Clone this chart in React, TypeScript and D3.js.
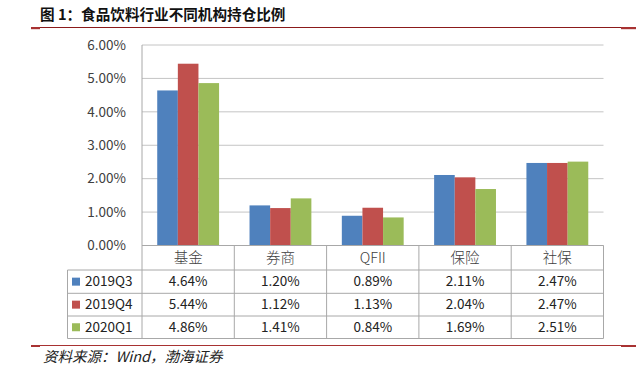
import React from "react";
import * as d3 from "d3";

const categories = ["基金", "券商", "QFII", "保险", "社保"];
const seriesNames = ["2019Q3", "2019Q4", "2020Q1"];
const q3 = [4.64, 1.2, 0.89, 2.11, 2.47];
const q4 = [5.44, 1.12, 1.13, 2.04, 2.47];
const q1 = [4.86, 1.41, 0.84, 1.69, 2.51];
const yTicks = [0, 1, 2, 3, 4, 5, 6];
const colors = ["#4F81BD", "#C0504D", "#9BBB59"];
const title = "图 1：食品饮料行业不同机构持仓比例";
const source = "资料来源：Wind，渤海证券";

const W = 643;
const H = 365;
const plotL = 142;
const plotR = 603.5;
const plotT = 45;
const plotB = 245.5;
const tableL = 67.5;
const rowYs = [270, 293.3, 316, 338.5];

export default function App() {
  const series = [q3, q4, q1];
  const y = d3.scaleLinear().domain([0, 6]).range([plotB, plotT]);
  const x = d3
    .scaleBand<string>()
    .domain(categories)
    .range([plotL, plotR])
    .paddingInner(0.33)
    .paddingOuter(0.165);
  const xs = d3
    .scaleBand<string>()
    .domain(seriesNames)
    .range([0, x.bandwidth()]);
  const colW = (plotR - plotL) / categories.length;
  const font = "'Noto Sans CJK SC', 'Noto Sans', sans-serif";
  const grid = "#C4C4C4";
  const tableLine = "#A8A8A8";
  const fmt = (v: number) => v.toFixed(2) + "%";

  return (
    <svg
      width={W}
      height={H}
      style={{ position: "absolute", left: 0, top: 0, background: "#fff" }}
      fontFamily={font}
    >
      {/* title */}
      <text x={40} y={20} fontSize={14.6} fontWeight="bold" fill="#111">
        {title}
      </text>
      <line x1={31} x2={636} y1={27.5} y2={27.5} stroke="#8B1A1A" strokeWidth={1.2} />
      <rect x={31} y={27} width={9} height={2.2} fill="#A83232" />
      <rect x={621} y={27} width={15} height={2.2} fill="#A83232" />

      {/* gridlines */}
      {yTicks.map((t) => (
        <line key={t} x1={plotL} x2={plotR} y1={y(t)} y2={y(t)} stroke={grid} strokeWidth={1} />
      ))}
      {yTicks.map((t) => (
        <text
          key={"l" + t}
          x={126}
          y={y(t)}
          dy="0.35em"
          textAnchor="end"
          fontSize={13.5}
          fill="#404040"
        >
          {fmt(t)}
        </text>
      ))}

      {/* bars */}
      {categories.map((c, i) => (
        <g key={c}>
          {series.map((s, j) => (
            <rect
              key={j}
              x={(x(c) as number) + (xs(seriesNames[j]) as number)}
              y={y(s[i])}
              width={xs.bandwidth()}
              height={plotB - y(s[i])}
              fill={colors[j]}
            />
          ))}
        </g>
      ))}

      {/* axis line */}
      <line x1={plotL} x2={plotL} y1={plotT} y2={rowYs[3]} stroke={tableLine} />
      <line x1={plotL} x2={plotR} y1={plotB} y2={plotB} stroke={tableLine} />

      {/* table */}
      {rowYs.map((ry) => (
        <line key={ry} x1={tableL} x2={plotR} y1={ry} y2={ry} stroke={tableLine} />
      ))}
      <line x1={tableL} x2={tableL} y1={rowYs[0]} y2={rowYs[3]} stroke={tableLine} />
      {categories.map((c, i) => (
        <line
          key={"v" + c}
          x1={plotL + colW * (i + 1)}
          x2={plotL + colW * (i + 1)}
          y1={plotB}
          y2={rowYs[3]}
          stroke={tableLine}
        />
      ))}
      {categories.map((c, i) => (
        <text
          key={"h" + c}
          x={plotL + colW * (i + 0.5)}
          y={(plotB + rowYs[0]) / 2}
          dy="0.36em"
          textAnchor="middle"
          fontSize={14.5}
          fontWeight={300}
          fill="#404040"
        >
          {c}
        </text>
      ))}
      {series.map((s, j) => {
        const cy = (rowYs[j] + rowYs[j + 1]) / 2;
        return (
          <g key={"r" + j}>
            <rect x={72} y={cy - 4} width={8} height={8} fill={colors[j]} />
            <text x={85} y={cy} dy="0.35em" fontSize={13.5} fill="#222">
              {seriesNames[j]}
            </text>
            {s.map((v, i) => (
              <text
                key={i}
                x={plotL + colW * (i + 0.5)}
                y={cy}
                dy="0.35em"
                textAnchor="middle"
                fontSize={13.5}
                fill="#222"
              >
                {fmt(v)}
              </text>
            ))}
          </g>
        );
      })}

      {/* source */}
      <line x1={31} x2={636} y1={345.5} y2={345.5} stroke="#A83232" strokeWidth={1} />
      <rect x={31} y={345} width={9} height={2} fill="#A83232" />
      <rect x={621} y={345} width={15} height={2} fill="#A83232" />
      <text x={43} y={362} fontSize={14.5} fontStyle="italic" fill="#222">
        {source}
      </text>
    </svg>
  );
}
